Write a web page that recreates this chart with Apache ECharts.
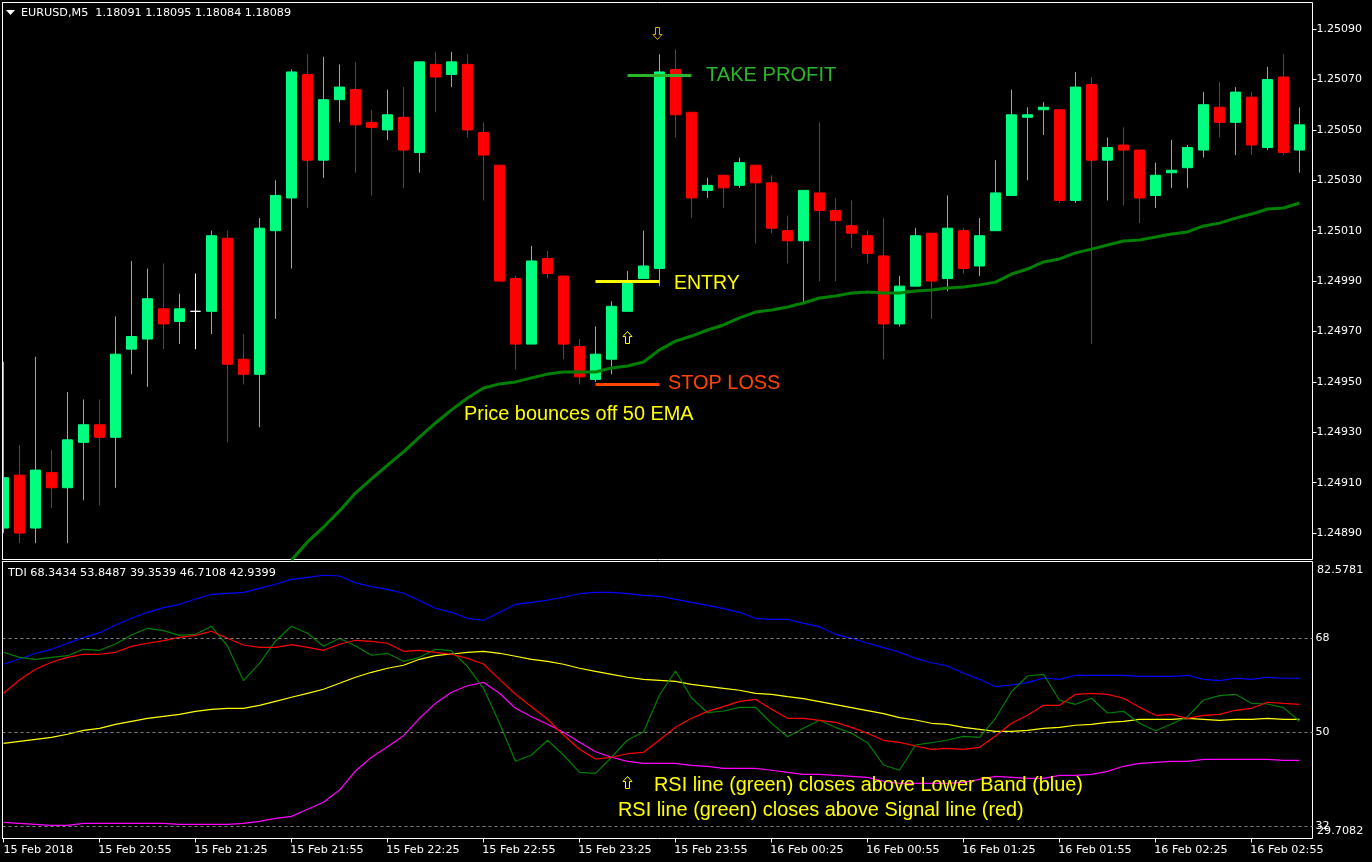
<!DOCTYPE html>
<html>
<head>
<meta charset="utf-8">
<title>EURUSD M5</title>
<script src="https://cdn.jsdelivr.net/npm/echarts@6/dist/echarts.min.js"></script>
<style>
  html, body { margin: 0; padding: 0; background: #000; }
  #chart { width: 1372px; height: 862px; }
</style>
</head>
<body>
<div id="chart"></div>
<script>
// price candles, oldest first (one every 5 minutes)
const opens = [
  1.24892,1.24913,1.24892,1.24914,1.24908,1.24926,1.24933,1.24928,1.24963,1.24967,
  1.24979,1.24974,1.24978,1.24978,1.25007,1.24959,1.24953,1.25010,1.25023,1.25072,
  1.25038,1.25062,1.25066,1.25053,1.25050,1.25055,1.25041,1.25076,1.25072,1.25076,
  1.25049,1.25036,1.24991,1.24965,1.24999,1.24992,1.24964,1.24951,1.24959,1.24978,
  1.24991,1.24995,1.25074,1.25057,1.25026,1.25032,1.25028,1.25036,1.25029,1.25010,
  1.25006,1.25025,1.25018,1.25012,1.25008,1.25000,1.24973,1.24988,1.25009,1.24991,
  1.25010,1.24996,1.25010,1.25024,1.25055,1.25058,1.25058,1.25022,1.25068,1.25038,
  1.25044,1.25042,1.25024,1.25033,1.25035,1.25042,1.25059,1.25053,1.25063,1.25043,
  1.25071,1.25042
];
const closes = [
  1.24912,1.24890,1.24915,1.24908,1.24927,1.24933,1.24928,1.24961,1.24968,1.24983,
  1.24973,1.24979,1.24978,1.25008,1.24957,1.24953,1.25011,1.25024,1.25073,1.25038,
  1.25062,1.25067,1.25052,1.25051,1.25056,1.25042,1.25077,1.25071,1.25077,1.25050,
  1.25040,1.24990,1.24965,1.24998,1.24993,1.24965,1.24952,1.24961,1.24980,1.24990,
  1.24996,1.25073,1.25056,1.25023,1.25028,1.25027,1.25037,1.25029,1.25011,1.25006,
  1.25026,1.25018,1.25014,1.25009,1.25001,1.24973,1.24988,1.25008,1.24990,1.25011,
  1.24995,1.25008,1.25025,1.25056,1.25056,1.25059,1.25022,1.25067,1.25038,1.25043,
  1.25042,1.25023,1.25032,1.25034,1.25043,1.25060,1.25053,1.25065,1.25044,1.25070,
  1.25041,1.25052
];
const lows = [
  1.24890,1.24886,1.24886,1.24900,1.24886,1.24903,1.24901,1.24908,1.24953,1.24948,
  1.24963,1.24965,1.24963,1.24969,1.24926,1.24949,1.24932,1.24975,1.24995,1.25019,
  1.25031,1.25053,1.25033,1.25024,1.25046,1.25027,1.25033,1.25057,1.25067,1.25047,
  1.25022,1.24990,1.24955,1.24965,1.24991,1.24959,1.24949,1.24950,1.24953,1.24978,
  1.24991,1.24988,1.25047,1.25015,1.25023,1.25019,1.25027,1.25005,1.25009,1.24997,
  1.24981,1.24990,1.24990,1.25003,1.24997,1.24959,1.24972,1.24988,1.24975,1.24986,
  1.24993,1.24992,1.25010,1.25024,1.25030,1.25048,1.25021,1.25021,1.24965,1.25022,
  1.25020,1.25013,1.25019,1.25027,1.25027,1.25039,1.25047,1.25040,1.25040,1.25042,
  1.25040,1.25033
];
const highs = [
  1.24958,1.24925,1.24960,1.24923,1.24946,1.24943,1.24943,1.24976,1.24998,1.24995,
  1.24997,1.24985,1.24993,1.25010,1.25010,1.24969,1.25015,1.25030,1.25074,1.25080,
  1.25079,1.25076,1.25077,1.25058,1.25066,1.25067,1.25077,1.25081,1.25081,1.25080,
  1.25053,1.25036,1.24992,1.25004,1.25002,1.24992,1.24967,1.24972,1.24982,1.24994,
  1.25010,1.25080,1.25082,1.25057,1.25031,1.25032,1.25039,1.25036,1.25032,1.25016,
  1.25026,1.25053,1.25023,1.25022,1.25010,1.25015,1.24992,1.25011,1.25009,1.25024,
  1.25011,1.25015,1.25038,1.25066,1.25059,1.25061,1.25058,1.25073,1.25071,1.25047,
  1.25051,1.25042,1.25037,1.25046,1.25044,1.25065,1.25069,1.25067,1.25065,1.25075,
  1.25080,1.25059
];

// 50 EMA, only visible from candle 18 on
const emaStart = 18;
const ema50 = [
  1.248793,1.248865,1.248924,1.248988,1.249059,1.249115,1.249170,1.249222,1.249281,1.249337,
  1.249389,1.249436,1.249476,1.249492,1.249500,1.249516,1.249531,1.249539,1.249539,1.249539,
  1.249555,1.249563,1.249579,1.249627,1.249662,1.249682,1.249706,1.249726,1.249754,1.249777,
  1.249785,1.249797,1.249813,1.249833,1.249841,1.249853,1.249857,1.249853,1.249853,1.249861,
  1.249865,1.249873,1.249877,1.249885,1.249896,1.249928,1.249948,1.249976,1.249988,1.250012,
  1.250027,1.250043,1.250059,1.250063,1.250075,1.250087,1.250095,1.250119,1.250130,1.250150,
  1.250166,1.250186,1.250190,1.250210
];

// TDI lines
const upperBand = [
  62.96,63.97,65.06,65.82,66.97,68.04,68.99,70.46,71.74,72.88,
  73.76,74.41,75.42,76.32,76.51,76.70,77.46,78.23,79.18,79.56,
  79.95,79.81,78.53,77.77,77.27,76.51,75.10,73.65,72.88,71.74,
  71.36,72.88,74.41,74.79,75.23,75.75,76.43,76.70,76.70,76.43,
  76.13,75.94,75.36,74.79,74.22,73.57,72.88,71.74,71.55,71.55,
  70.78,70.14,68.68,67.92,66.97,66.13,65.25,64.10,63.26,62.63,
  61.24,60.09,58.68,59.01,59.45,60.34,60.09,60.86,60.86,60.86,
  60.86,60.67,60.67,60.67,60.86,60.09,59.83,60.29,60.09,60.48,
  60.29,60.29
];
const rsiLine = [
  65.25,64.29,63.91,64.29,64.60,65.82,65.63,66.83,68.55,69.83,
  69.37,68.49,68.68,70.21,66.45,59.83,63.15,67.41,70.21,68.87,
  66.39,67.92,66.45,64.68,65.06,63.53,64.29,65.82,65.55,62.50,
  58.38,51.70,44.44,45.65,48.45,45.65,42.34,42.15,45.21,48.51,
  50.04,57.10,61.68,56.58,53.72,54.04,54.75,54.75,51.70,49.14,
  50.74,52.27,50.93,49.79,47.99,43.74,42.73,47.55,47.99,48.51,
  49.21,49.02,52.65,57.73,60.72,61.05,56.09,55.32,56.47,53.66,
  53.98,51.70,50.28,51.56,52.96,56.14,56.97,57.23,55.51,55.38,
  54.68,52.08
];
const signalLine = [
  57.42,59.96,62.00,63.34,64.29,64.87,64.87,65.25,66.39,66.97,
  67.46,68.11,68.49,69.26,67.92,66.64,66.20,66.20,66.70,66.20,
  65.63,66.78,67.54,67.35,66.97,65.44,65.63,65.25,64.87,64.10,
  63.02,60.09,57.23,54.87,52.46,49.46,46.73,44.88,45.21,45.89,
  46.16,48.51,50.93,52.65,53.98,54.87,55.89,56.28,54.37,52.65,
  52.65,52.27,51.89,50.93,49.79,48.45,48.07,47.36,46.73,46.92,
  46.73,47.11,49.27,51.70,53.22,55.13,55.13,57.23,57.42,57.23,
  56.47,54.75,53.22,53.41,52.65,53.22,53.41,54.18,54.56,55.71,
  55.51,55.32
];
const middleBand = [
  47.88,48.26,48.64,49.02,49.60,50.36,50.74,51.50,52.08,52.65,
  53.03,53.41,53.98,54.37,54.56,54.56,55.13,55.89,56.66,57.42,
  58.19,59.33,60.48,61.43,62.20,62.77,63.91,64.60,64.92,65.25,
  65.44,65.06,64.49,63.91,63.53,62.96,62.20,61.62,61.05,60.48,
  60.09,59.90,59.71,59.14,58.76,58.38,58.00,57.42,57.23,56.77,
  56.39,55.82,55.25,54.68,54.10,53.53,52.77,52.33,51.70,51.50,
  50.93,50.55,50.17,50.17,50.36,50.74,50.93,51.32,51.50,51.89,
  52.08,52.46,52.46,52.46,52.65,52.46,52.27,52.46,52.46,52.65,
  52.46,52.46
];
const lowerBand = [
  32.80,32.61,32.42,32.22,32.22,32.61,32.61,32.61,32.61,32.61,
  32.61,32.42,32.42,32.42,32.42,32.61,32.99,33.56,33.94,35.28,
  36.62,38.96,42.59,45.21,47.23,49.33,52.65,55.51,57.61,58.87,
  59.52,57.42,54.56,52.96,51.50,49.98,48.07,46.27,45.21,44.44,
  44.06,44.06,44.06,43.68,43.49,43.11,43.11,43.11,42.73,42.34,
  41.96,41.96,41.77,41.58,41.39,40.63,40.24,40.24,40.24,40.24,
  40.43,41.01,41.58,41.39,41.20,41.20,41.77,41.77,41.96,42.53,
  43.49,44.06,44.25,44.44,44.44,44.82,44.82,44.82,44.82,44.82,
  44.63,44.63
];

// axis labels
const timeTicks = [0,6,12,18,24,30,36,42,48,54,60,66,72,78];
const timeLabels = [
  '15 Feb 2018','15 Feb 20:55','15 Feb 21:25','15 Feb 21:55','15 Feb 22:25',
  '15 Feb 22:55','15 Feb 23:25','15 Feb 23:55','16 Feb 00:25','16 Feb 00:55',
  '16 Feb 01:25','16 Feb 01:55','16 Feb 02:25','16 Feb 02:55'
];
const priceTicks = [1.2509,1.2507,1.2505,1.2503,1.2501,1.2499,1.2497,1.2495,1.2493,1.2491,1.2489];
const tdiLevels = [68,50,32];
const tdiMin = 29.7082;
const tdiMax = 82.5781;

// trade levels drawn on the price chart: [from candle, to candle, price, colour]
const tradeLevels = [
  [39, 43, 1.250717, '#2ab52a'],
  [37, 41, 1.24990, '#ffff00'],
  [37, 41, 1.24949, '#ff4500']
];

const FONT = 'DejaVu Sans';
const NOTE_FONT = 'Liberation Sans';

function noteText(text, x, y, color, size) {
  return {
    type: 'text', x: x, y: y, silent: true, z: 50,
    style: {
      text: text, fill: color, font: (size || 19.9) + 'px "' + NOTE_FONT + '"',
      verticalAlign: 'middle', align: 'left'
    }
  };
}
function infoText(text, x, y) {
  return {
    type: 'text', x: x, y: y, silent: true, z: 50,
    style: { text: text, fill: '#fff', font: '11.2px "' + FONT + '"', verticalAlign: 'middle', align: 'left' }
  };
}
// hollow arrow, dir is -1 for up and 1 for down
function arrow(dir, x, y, color) {
  const pts = [[0, 6], [4.5, 1], [2, 1], [2, -6], [-2, -6], [-2, 1], [-4.5, 1]];
  return {
    type: 'polygon', x: x, y: y, silent: true, z: 50,
    shape: { points: pts.map((p) => [p[0], p[1] * dir]) },
    style: { fill: 'none', stroke: color, lineWidth: 1 }
  };
}
function frameRect(x, y, w, h, color) {
  return { type: 'rect', silent: true, z: 40, shape: { x: x, y: y, width: w, height: h }, style: { fill: color } };
}
const withIndex = (arr, start) => arr.map((v, i) => [i + (start || 0), v]);

function tdiSeries(name, values, color, extra) {
  return Object.assign({
    name: name, type: 'line', xAxisIndex: 1, yAxisIndex: 1,
    data: withIndex(values), showSymbol: false, symbol: 'none',
    lineStyle: { color: color, width: 1.2 }, silent: true
  }, extra);
}

const chart = echarts.init(document.getElementById('chart'));

// first candle sits on the left frame, 16px per candle
const xMin = -0.0625;
const xMax = 81.8125;

chart.setOption({
  backgroundColor: '#000',
  animation: false,
  grid: [
    { left: 2.5, top: 2.5, width: 1310, height: 557, show: true, borderColor: '#fff', borderWidth: 1, backgroundColor: '#000' },
    { left: 2.5, top: 561.5, width: 1310, height: 277, show: true, borderColor: '#fff', borderWidth: 1, backgroundColor: '#000' }
  ],
  xAxis: [
    { type: 'value', gridIndex: 0, min: xMin, max: xMax, show: false },
    {
      type: 'value', gridIndex: 1, min: xMin, max: xMax,
      axisLine: { show: false, onZero: false }, splitLine: { show: false },
      axisTick: { show: true, length: 4, lineStyle: { color: '#fff' }, customValues: timeTicks },
      axisLabel: {
        // labels start a hair left of their tick
        customValues: timeTicks.map((t) => t ? t - 0.08 : 0), color: '#fff', fontFamily: FONT, fontSize: 11.2, align: 'left', margin: 6,
        formatter: (v) => timeLabels[Math.round(v / 6)]
      }
    }
  ],
  yAxis: [
    {
      type: 'value', gridIndex: 0, position: 'right', min: 1.2487952, max: 1.2510056, scale: true,
      axisLine: { show: false, onZero: false }, splitLine: { show: false },
      axisTick: { show: true, length: 4, lineStyle: { color: '#fff' }, customValues: priceTicks },
      axisLabel: {
        customValues: priceTicks, color: '#fff', fontFamily: FONT, fontSize: 11, margin: 4, padding: [4, 0, 0, 0],
        formatter: (v) => v.toFixed(5)
      }
    },
    {
      type: 'value', gridIndex: 1, position: 'right', min: tdiMin, max: tdiMax, scale: true,
      axisLine: { show: false, onZero: false }, splitLine: { show: false }, axisTick: { show: false },
      axisLabel: {
        customValues: tdiLevels, color: '#fff', fontFamily: FONT, fontSize: 11, margin: 3, padding: [2, 0, 0, 0],
        formatter: (v) => String(v)
      }
    }
  ],
  series: [
    {
      name: 'EURUSD', type: 'candlestick', xAxisIndex: 0, yAxisIndex: 0, barWidth: 10, silent: true,
      data: opens.map((o, i) => [i, o, closes[i], lows[i], highs[i]]),
      itemStyle: {
        color: '#00ff7f', color0: '#ff0000', borderColor: '#00ff7f', borderColor0: '#ff0000',
        borderColorDoji: '#ffffff', borderWidth: 1
      }
    },
    {
      name: 'EMA 50', type: 'line', xAxisIndex: 0, yAxisIndex: 0, z: 5, silent: true,
      data: withIndex(ema50, emaStart), showSymbol: false, symbol: 'none',
      lineStyle: { color: '#008000', width: 3 }
    },
    {
      name: 'Levels', type: 'line', xAxisIndex: 0, yAxisIndex: 0, z: 6, silent: true, data: [],
      markLine: {
        silent: true, symbol: 'none', label: { show: false }, animation: false,
        data: tradeLevels.map((l) => [
          { coord: [l[0], l[2]], lineStyle: { color: l[3], width: 3, type: 'solid' } },
          { coord: [l[1], l[2]] }
        ])
      }
    },
    tdiSeries('Upper Band', upperBand, '#0000ff', {
      markLine: {
        silent: true, symbol: 'none', label: { show: false }, animation: false,
        lineStyle: { color: '#808080', width: 1, type: [3, 3] },
        data: tdiLevels.map((v) => ({ yAxis: v }))
      }
    }),
    tdiSeries('Lower Band', lowerBand, '#ff00ff'),
    tdiSeries('Middle Band', middleBand, '#ffff00'),
    tdiSeries('RSI', rsiLine, '#008000'),
    tdiSeries('Signal', signalLine, '#ff0000')
  ],
  graphic: [
    // the first candle body is not clipped by the grid, hide what sticks out left of the frame
    frameRect(0, 0, 2, 862, '#000'),
    frameRect(2, 2, 1, 558, '#fff'),
    frameRect(2, 561, 1, 278, '#fff'),
    { type: 'polygon', silent: true, z: 50, shape: { points: [[6, 10], [15, 10], [10.5, 15]] }, style: { fill: '#fff' } },
    infoText('EURUSD,M5  1.18091 1.18095 1.18084 1.18089', 21, 13),
    infoText('TDI 68.3434 53.8487 39.3539 46.7108 42.9399', 8, 573),
    infoText('82.5781', 1317, 570),
    infoText('29.7082', 1317, 831),
    noteText('TAKE PROFIT', 706, 75.5, '#2ab52a', 20.1),
    noteText('ENTRY', 674, 283.5, '#ffff00', 19.5),
    noteText('STOP LOSS', 668, 384, '#ff4500'),
    noteText('Price bounces off 50 EMA', 464, 415, '#ffff00'),
    noteText('RSI line (green) closes above Lower Band (blue)', 654, 786, '#ffff00'),
    noteText('RSI line (green) closes above Signal line (red)', 618, 811, '#ffff00'),
    arrow(1, 657.5, 33.5, '#e0a800'),
    arrow(-1, 627.5, 337.5, '#ffff00'),
    arrow(-1, 627.5, 782.5, '#ffff00')
  ]
});
</script>
</body>
</html>
